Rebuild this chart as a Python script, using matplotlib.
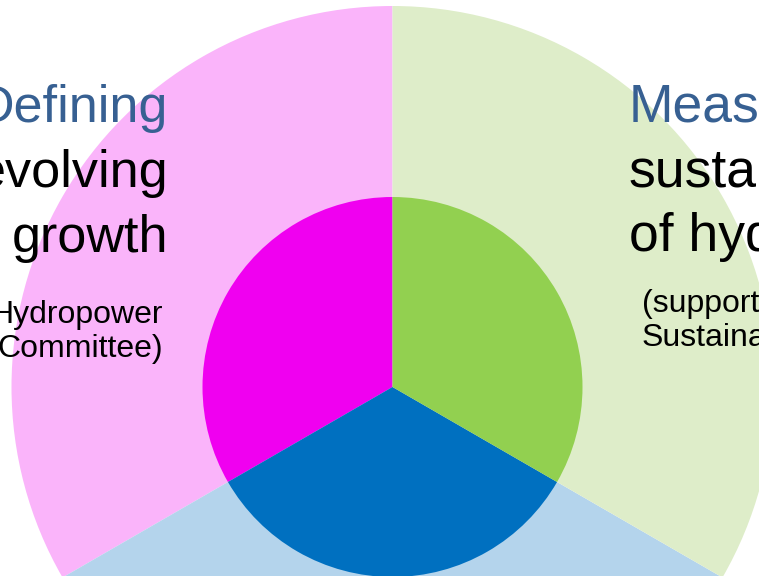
import matplotlib
matplotlib.use("Agg")
import matplotlib.pyplot as plt

# Data
segments = ["Defining", "Growth", "Measuring"]
values = [1, 1, 1]
outer_colors = ["#FAB4FA", "#B4D4EC", "#DEEDC9"]
inner_colors = ["#F000F0", "#0070C0", "#92D050"]

left_title = "Defining"
left_lines = ["evolving", "growth"]
left_small = ["Hydropower", "Committee)"]
right_title = "Measuring"
right_lines = ["sustainability", "of hydropower"]
right_small = ["(supported by", "Sustainability"]

W, H = 759, 576
fig = plt.figure(figsize=(W / 100, H / 100), dpi=100)
ax = fig.add_axes([0, 0, 1, 1])

cx, cy = 392.5, H - 387
ax.pie(values, colors=outer_colors, radius=381, center=(cx, cy), startangle=90,
       counterclock=True, wedgeprops=dict(linewidth=0))
ax.pie(values, colors=inner_colors, radius=190, center=(cx, cy), startangle=90,
       counterclock=True, wedgeprops=dict(linewidth=0))

ax.set_xlim(0, W)
ax.set_ylim(0, H)
ax.set_aspect("auto")
ax.axis("off")

font = "Liberation Sans"
big_left = 37.5
big_right = 38.5
small = 23
title_color = "#376092"

def y(p):
    return H - p

ax.text(168, y(122), left_title, ha="right", va="baseline", fontsize=big_left,
        color=title_color, family=font)
ax.text(168, y(187), left_lines[0], ha="right", va="baseline", fontsize=big_left,
        color="black", family=font)
ax.text(168, y(252), left_lines[1], ha="right", va="baseline", fontsize=big_left,
        color="black", family=font)
ax.text(163, y(323), left_small[0], ha="right", va="baseline", fontsize=small,
        color="black", family=font)
ax.text(163, y(357), left_small[1], ha="right", va="baseline", fontsize=small,
        color="black", family=font)

ax.text(629, y(122), right_title, ha="left", va="baseline", fontsize=big_right,
        color=title_color, family=font)
ax.text(629, y(187), right_lines[0], ha="left", va="baseline", fontsize=big_right,
        color="black", family=font)
ax.text(629, y(251), right_lines[1], ha="left", va="baseline", fontsize=big_right,
        color="black", family=font)
ax.text(642, y(312), right_small[0], ha="left", va="baseline", fontsize=small,
        color="black", family=font)
ax.text(642, y(346), right_small[1], ha="left", va="baseline", fontsize=small,
        color="black", family=font)

fig.savefig("out.png", dpi=100)
